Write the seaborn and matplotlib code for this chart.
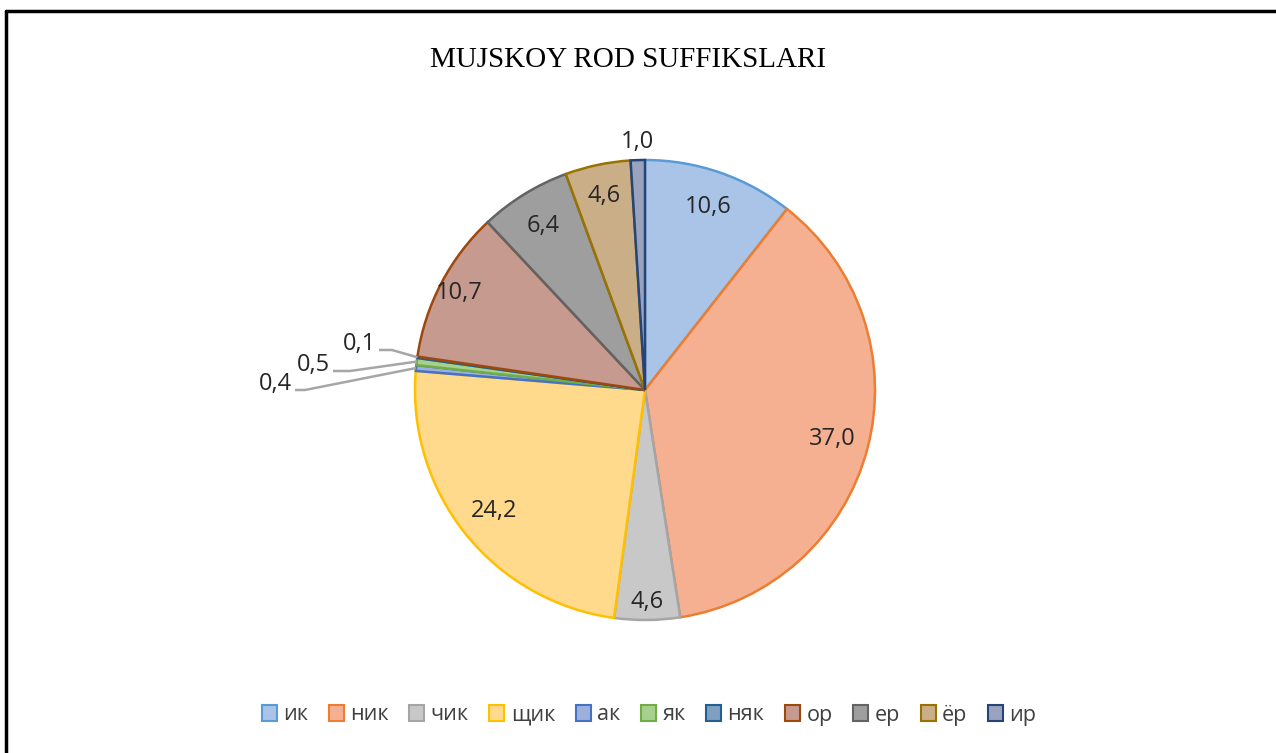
import numpy as np
import matplotlib
matplotlib.use("Agg")
import matplotlib.pyplot as plt
import seaborn as sns

# data
suffixes = ['ик', 'ник', 'чик', 'щик', 'ак', 'як', 'няк', 'ор', 'ер', 'ёр', 'ир']
values = [10.6, 37.0, 4.6, 24.2, 0.4, 0.5, 0.1, 10.7, 6.4, 4.6, 1.0]
value_labels = ['10,6', '37,0', '4,6', '24,2', '0,4', '0,5', '0,1', '10,7', '6,4', '4,6', '1,0']
title = 'MUJSKOY ROD SUFFIKSLARI'

# styling (excel office palette: light fill + full colour edge)
edge_colors = ['#5B9BD5', '#ED7D31', '#A5A5A5', '#FFC000', '#4472C4', '#70AD47',
               '#255E91', '#9E480E', '#636363', '#997300', '#264478']
fill_colors = ['#A9C4E6', '#F5B092', '#C8C8C8', '#FFD98C', '#9DB0DD', '#A8D08D',
               '#7FA0C0', '#C69A8E', '#9E9E9E', '#C9AE88', '#9AA3BD']
fills = sns.color_palette(fill_colors)
edges = sns.color_palette(edge_colors)

sns.set_theme(style="white")
plt.rcParams['font.family'] = ['Open Sans', 'DejaVu Sans']

W, H = 1276, 753
fig = plt.figure(figsize=(W / 100, H / 100), dpi=100)
ax = fig.add_axes([0, 0, 1, 1])

cx, cy, R = 645, H - 390, 230
wedges, _ = ax.pie(values, colors=fills, startangle=90, counterclock=False,
                   center=(cx, cy), radius=R,
                   wedgeprops=dict(linewidth=1.8))
for w, ec in zip(wedges, edges):
    w.set_edgecolor(ec)

ax.set_xlim(0, W)
ax.set_ylim(0, H)
ax.set_aspect('equal')
ax.axis('off')

lab_fs = 17
txt_col = '#262626'
# label radius factors (inside), outside labels handled separately
rfac = {0: 0.84, 1: 0.84, 2: 0.92, 3: 0.84, 7: 0.91, 8: 0.84, 9: 0.86}
for i, w in enumerate(wedges):
    mid = np.deg2rad((w.theta1 + w.theta2) / 2)
    if i in rfac:
        r = rfac[i] * R
        ax.text(cx + r * np.cos(mid), cy + r * np.sin(mid), value_labels[i],
                ha='center', va='center', fontsize=lab_fs, color=txt_col)
    elif i == 10:
        r = 1.08 * R
        ax.text(cx + r * np.cos(mid), cy + r * np.sin(mid), value_labels[i],
                ha='center', va='center', fontsize=lab_fs, color=txt_col)

# leader lines for tiny slices
leader = {6: (376, H - 350, 392), 5: (330, H - 371, 350), 4: (292, H - 390, 305)}
for i, (tx, ty, kx) in leader.items():
    w = wedges[i]
    mid = np.deg2rad((w.theta1 + w.theta2) / 2)
    ex, ey = cx + R * np.cos(mid), cy + R * np.sin(mid)
    ax.plot([tx + 3, kx, ex], [ty, ty, ey], color='#A6A6A6', lw=1.8,
            solid_capstyle='butt')
    ax.text(tx, ty + 6, value_labels[i], ha='right', va='center',
            fontsize=lab_fs, color=txt_col)

ax.text(628, H - 60, title, ha='center', va='center', fontsize=21,
        family='Liberation Serif', color='black')

handles = [plt.Rectangle((0, 0), 1, 1, facecolor=f, edgecolor=e, lw=1.5)
           for f, e in zip(fills, edges)]
fig.legend(handles, suffixes, loc='center', bbox_to_anchor=(649 / W, 1 - 715 / H),
           ncol=11, frameon=False, fontsize=15.5, handlelength=0.7,
           handleheight=0.7, handletextpad=0.3, columnspacing=0.95,
           labelcolor='#404040')

# outer frame
fig.add_artist(plt.Line2D([5.5 / W, 5.5 / W], [0, 1 - 11 / H], transform=fig.transFigure,
                          color='black', lw=2.5))
fig.add_artist(plt.Line2D([5.5 / W, 1], [1 - 11 / H, 1 - 11 / H], transform=fig.transFigure,
                          color='black', lw=2.5))

fig.savefig('out.png', dpi=100)
